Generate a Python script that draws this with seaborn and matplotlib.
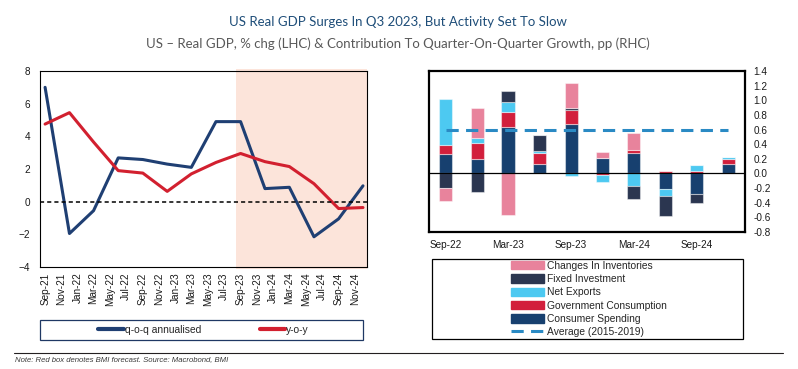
import numpy as np
import pandas as pd
import matplotlib
matplotlib.use("Agg")
import matplotlib.pyplot as plt
import matplotlib.dates as mdates
from matplotlib.patches import Patch, Rectangle
from matplotlib.lines import Line2D
from matplotlib.ticker import FormatStrFormatter
import seaborn as sns

# left panel: US real GDP, % chg
line_quarters = ["Sep-21", "Dec-21", "Mar-22", "Jun-22", "Sep-22", "Dec-22", "Mar-23",
                 "Jun-23", "Sep-23", "Dec-23", "Mar-24", "Jun-24", "Sep-24", "Dec-24"]
qoq_annualised = [7.0, -1.95, -0.55, 2.68, 2.58, 2.3, 2.1, 4.9, 4.9, 0.8, 0.88, -2.15, -1.05, 0.97]
yoy = [4.75, 5.45, 3.65, 1.9, 1.75, 0.63, 1.7, 2.4, 2.95, 2.45, 2.15, 1.1, -0.42, -0.36]
forecast_start = "2023-08-16"

# right panel: contribution to q-o-q growth, pp
bar_quarters = ["Sep-22", "Dec-22", "Mar-23", "Jun-23", "Sep-23",
                "Dec-23", "Mar-24", "Jun-24", "Sep-24", "Dec-24"]
consumer = [0.27, 0.20, 0.635, 0.13, 0.68, 0.205, 0.275, -0.21, -0.28, 0.127]
government = [0.12, 0.22, 0.205, 0.15, 0.19, -0.02, 0.045, 0.035, 0.03, 0.068]
net_exports = [0.63, 0.07, 0.14, 0.03, -0.04, -0.10, -0.165, -0.10, 0.09, 0.035]
fixed_inv = [-0.20, -0.25, 0.14, 0.22, 0.03, 0.005, -0.18, -0.265, -0.12, 0.0]
inventories = [-0.18, 0.41, -0.57, 0.0, 0.34, 0.085, 0.23, 0.0, 0.0, 0.0]
average_2015_2019 = 0.6

NAVY = "#1F3F73"
RED = "#D2202F"

sns.set_theme(style="white")
plt.rcParams["font.family"] = ["Liberation Sans", "DejaVu Sans"]

W, H = 798, 369
fig = plt.figure(figsize=(W / 100, H / 100), dpi=100)


def box(x0, y0, x1, y1):
    return [x0 / W, 1 - y1 / H, (x1 - x0) / W, (y1 - y0) / H]


# ---- left chart ----
ax1 = fig.add_axes(box(40, 71, 367, 267))
line_dates = pd.to_datetime(line_quarters, format="%b-%y")
line_df = pd.DataFrame({"date": line_dates, "q-o-q annualised": qoq_annualised, "y-o-y": yoy})
line_df = line_df.melt("date", var_name="series", value_name="pct")

sns.lineplot(data=line_df, x="date", y="pct", hue="series", palette=[NAVY, RED],
             linewidth=2.2, ax=ax1, legend=False)
x_end = line_dates[-1] + pd.Timedelta(days=15)
ax1.axvspan(pd.Timestamp(forecast_start), x_end, ymin=-0.012, ymax=1.008,
            color="#FCE4DA", lw=0, zorder=0, clip_on=False)
ax1.axhline(0, color="black", lw=1.1, ls=(0, (2.7, 2)))
ax1.set_xlim(line_dates[0] - pd.Timedelta(days=19), x_end)
ax1.set_ylim(-4, 8)
ax1.set_yticks(range(-4, 9, 2))
ax1.set_xticks(pd.date_range("2021-09-01", "2024-11-01", freq="2MS"))
ax1.xaxis.set_major_formatter(mdates.DateFormatter("%b-%y"))
ax1.tick_params(axis="x", length=0, labelsize=7.2, pad=4, rotation=90, colors="#1a1a1a")
ax1.tick_params(axis="y", length=0, labelsize=7.2, pad=7, colors="#1a1a1a")
ax1.set_xlabel("")
ax1.set_ylabel("")
for s in ax1.spines.values():
    s.set_color("black")
    s.set_linewidth(0.8)
    s.set_zorder(5)

# ---- right chart ----
ax2 = fig.add_axes(box(429, 71, 745, 232))
bar_dates = pd.to_datetime(bar_quarters, format="%b-%y")
components = [
    ("Consumer Spending", consumer, "#17406F"),
    ("Government Consumption", government, "#D21F3C"),
    ("Net Exports", net_exports, "#4DC9F1"),
    ("Fixed Investment", fixed_inv, "#2B3650"),
    ("Changes In Inventories", inventories, "#E8839C"),
]
pos = np.zeros(len(bar_dates))
neg = np.zeros(len(bar_dates))
for name, vals, col in components:
    v = np.array(vals)
    bottom = np.where(v >= 0, pos, neg)
    ax2.bar(bar_dates, v, width=38, bottom=bottom, color=col,
            edgecolor=(1, 1, 1, 0.45), linewidth=0.8)
    pos += np.clip(v, 0, None)
    neg += np.clip(v, None, 0)

avg_color = "#2A8AC4"
ax2.plot(bar_dates, np.full(len(bar_dates), average_2015_2019), color=avg_color,
         lw=2.2, ls=(0, (4, 2.4)), zorder=4)
ax2.axhline(0, color="black", lw=0.9, zorder=3)
ax2.set_xlim(bar_dates[0] - pd.Timedelta(days=49), bar_dates[-1] + pd.Timedelta(days=49))
ax2.set_ylim(-0.8, 1.4)
ax2.set_yticks(np.round(np.arange(-0.8, 1.41, 0.2), 1) + 0.0)
ax2.yaxis.set_major_formatter(FormatStrFormatter("%.1f"))
ax2.yaxis.tick_right()
ax2.set_xticks(bar_dates[::2])
ax2.xaxis.set_major_formatter(mdates.DateFormatter("%b-%y"))
ax2.tick_params(axis="x", length=0, labelsize=7.2, pad=6, colors="#1a1a1a")
ax2.tick_params(axis="y", length=0, labelsize=7.2, pad=6, colors="#1a1a1a")
for s in ax2.spines.values():
    s.set_color("black")
    s.set_linewidth(1.6)

# ---- legends ----
left_handles = [Line2D([], [], color=NAVY, lw=3), Line2D([], [], color=RED, lw=3)]
fig.legend(left_handles, ["q-o-q annualised", "y-o-y"], loc="center",
           bbox_to_anchor=(203.5 / W, 1 - 330 / H), ncol=2, frameon=False,
           handlelength=2.5, handletextpad=0.1, columnspacing=5.7, fontsize=7.4)
fig.add_artist(Rectangle((40 / W, 1 - 340 / H), 323 / W, 20 / H, transform=fig.transFigure,
                         fill=False, ec="#1F3864", lw=0.9))

right_handles = [Patch(color=c) for _, _, c in components[::-1]]
right_labels = [n for n, _, _ in components[::-1]]
right_handles.append(Line2D([], [], color=avg_color, lw=2.2, ls=(0, (4, 2.4))))
right_labels.append("Average (2015-2019)")
fig.legend(right_handles, right_labels, loc="center",
           bbox_to_anchor=(589 / W, 1 - 299 / H), ncol=1, frameon=False,
           handlelength=3.2, handleheight=0.9, handletextpad=0.3, labelspacing=0.32,
           fontsize=7.4)
fig.add_artist(Rectangle((432 / W, 1 - 339 / H), 311 / W, 80 / H, transform=fig.transFigure,
                         fill=False, ec="black", lw=0.9))

# ---- titles and note ----
fig.text(397.5 / W, 1 - 22 / H, "US Real GDP Surges In Q3 2023, But Activity Set To Slow",
         ha="center", va="center", color="#1F4E79", fontsize=9.5, family=["Lato", "DejaVu Sans"])
fig.text(397.5 / W, 1 - 44 / H,
         "US \u2013 Real GDP, % chg (LHC) & Contribution To Quarter-On-Quarter Growth, pp (RHC)",
         ha="center", va="center", color="#595959", fontsize=9.5, family=["Lato", "DejaVu Sans"])
fig.add_artist(Line2D([14 / W, 783 / W], [1 - 352.7 / H] * 2, color="#231F20", lw=0.8))
fig.text(15 / W, 1 - 360 / H, "Note: Red box denotes BMI forecast. Source: Macrobond, BMI",
         ha="left", va="center", fontsize=5.6, style="italic", color="#3A3A3A")

fig.savefig("out.png", dpi=100)
